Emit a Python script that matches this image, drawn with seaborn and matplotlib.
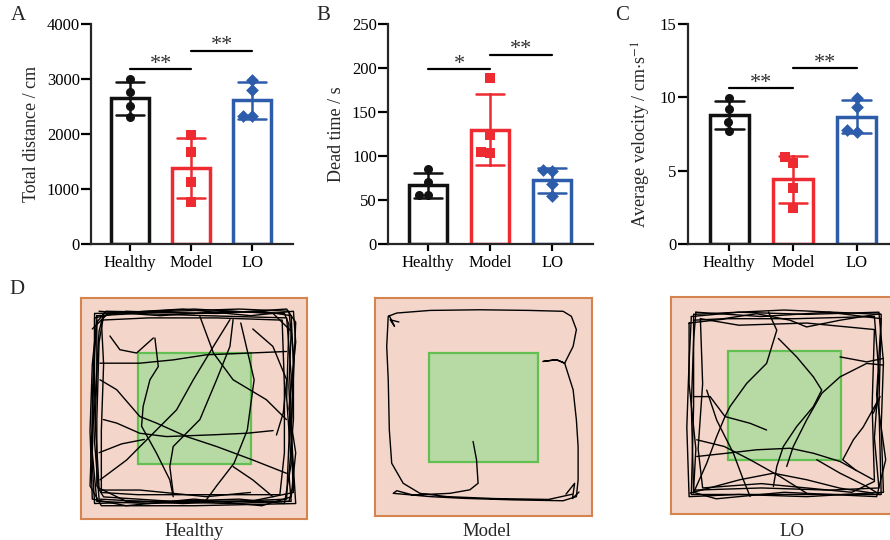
import numpy as np
import pandas as pd
import matplotlib
matplotlib.use('Agg')
import matplotlib.pyplot as plt
import seaborn as sns
from matplotlib.patches import Rectangle

# groups and styling
groups = ['Healthy', 'Model', 'LO']
colors = ['#111111', '#ee2b30', '#2d5cab']
markers = ['o', 's', 'D']

distance_healthy = [3003, 2771, 2510, 2315]
distance_model = [1988, 1666, 1131, 755]
distance_lo = [2985, 2803, 2329, 2329]

dead_healthy = [85, 70.6, 55.5, 55.5]
dead_model = [188.4, 124, 103, 104]
dead_lo = [84, 83, 68, 54]

velocity_healthy = [9.98, 9.18, 8.34, 7.73]
velocity_model = [5.9, 5.54, 3.79, 2.42]
velocity_lo = [9.94, 9.32, 7.66, 7.77]

# significance brackets: (group i, group j), height, label
sig_pairs = [(0, 1), (1, 2)]
sig_A = [3180, 3513]
sig_B = [198.7, 215]
sig_C = [10.62, 11.99]
stars_A = ['**', '**']
stars_B = ['*', '**']
stars_C = ['**', '**']

# open field tracks, arena coordinates 0-100 (y down), center zone 25-75
center_zone = [25, 25, 50, 50]

healthy_tracks = [
    [(6, 9), (20, 6), (50, 7), (80, 6), (93, 8), (94, 30), (93, 60), (94, 85), (92, 92), (60, 92), (30, 93), (7, 92), (5, 70), (6, 40), (6, 9)],
    [(8, 6), (35, 8), (65, 6), (90, 7), (92, 12), (91, 45), (93, 75), (90, 93), (70, 91), (40, 92), (10, 90), (7, 85), (7, 55), (8, 20), (10, 8)],
    [(5, 14), (12, 7), (45, 5), (75, 8), (94, 6), (95, 20), (92, 50), (95, 70), (93, 90), (80, 94), (50, 91), (20, 94), (5, 91), (4, 60), (5, 30), (7, 10)],
    [(9, 10), (30, 9), (60, 9), (89, 10), (90, 40), (90, 70), (88, 89), (55, 89), (25, 89), (9, 88), (9, 60), (10, 30), (9, 10)],
    [(7, 8), (25, 7), (55, 8), (91, 9), (93, 35), (92, 65), (91, 91), (45, 93), (8, 91), (6, 65), (7, 35), (7, 8)],
    [(6, 7), (40, 6), (70, 5), (92, 6), (94, 25), (94, 55), (92, 80), (93, 92), (65, 93), (35, 92), (6, 93), (5, 75), (5, 45), (6, 20), (6, 7)],
    [(10, 7), (50, 5), (85, 7), (93, 15), (92, 40), (94, 88), (75, 92), (20, 92), (8, 86), (6, 50), (8, 15), (10, 7)],
    [(7, 11), (11, 6), (60, 7), (91, 5), (95, 11), (93, 60), (95, 93), (50, 94), (9, 94), (4, 85), (6, 25), (7, 11)],
    [(8.4, 37), (15.8, 41.5), (26, 53.6), (33.4, 56.6), (46.7, 62.7), (60, 67.2), (76, 73.3), (90.9, 79.3)],
    [(8.4, 29.5), (26, 29.5), (40.8, 28), (55.5, 25.7), (74.7, 24.9), (90.9, 24.2)],
    [(32.7, 18.1), (34.2, 31), (30.5, 37), (27.5, 49), (26.8, 58), (33.4, 70.2), (39.3, 82.3), (40.8, 89.9)],
    [(8.4, 82.3), (20.2, 73.3), (30.5, 62.7), (42.3, 50.6), (49.7, 37), (58.6, 21.9), (65.9, 9.8)],
    [(67.3, 9.8), (65.9, 21.9), (60, 37), (52.6, 55), (40.8, 67.2), (39.3, 76.3), (40.8, 88.4)],
    [(70.7, 11.3), (76.6, 37), (73.6, 59.7), (67.7, 74.8), (60, 85), (55, 92)],
    [(52.6, 8.3), (58.6, 24.9), (67.3, 37), (82, 46), (90.9, 55)],
    [(9.9, 55), (15.8, 56.6), (26, 61.2), (37.8, 62.7), (58.6, 61.9), (73.3, 61.2), (85, 60)],
    [(8.4, 86.9), (26, 86.9), (40.8, 88.4), (55.5, 89.9), (75, 88)],
    [(67.3, 76.3), (76, 82.3), (84.9, 89.9)],
    [(12.8, 17.2), (17.2, 23.4), (24.6, 24.9), (32, 18.1)],
    [(76, 14), (84.9, 21.9), (91, 37), (89.5, 52), (86.5, 62)],
    [(8, 70), (18, 66), (28, 64)],
]

model_tracks = [
    [(45.2, 65.8), (46.8, 74.3), (47.5, 85), (43.7, 88), (34.5, 89.6), (17.6, 90.4), (10, 88.4), (8.4, 89.6),
     (25.3, 91.1), (40.6, 91.9), (63.7, 92.6), (86.7, 93), (92.8, 91.1), (93.6, 83.5), (93.6, 68.1),
     (92.8, 55.9), (91.3, 42.1), (87.4, 29.9), (83.6, 28.3), (77.5, 29.1), (83.6, 28.3), (87.4, 29.9),
     (91.3, 22.2), (92.8, 14.5), (90.5, 8.4), (86.7, 6.1), (71.3, 5.7), (48.3, 5.4), (25.3, 5.7),
     (10, 6.9), (6.1, 8.4), (5.4, 22.2), (6.1, 37.5), (6.6, 60.5), (7.7, 75.8), (13, 85), (20.7, 89.6),
     (33, 91.1), (55, 92), (80, 92.4), (91, 90)],
    [(6.5, 8), (9, 13), (7, 10), (11, 11)],
    [(88, 90), (92, 85), (91, 92), (94, 89)],
]

lo_tracks = [
    [(9, 9), (30, 7), (60, 8), (92, 7), (94, 30), (93, 60), (94, 90), (60, 92), (30, 91), (8, 92), (7, 60), (8, 30), (9, 9)],
    [(11, 7), (40, 9), (70, 7), (93, 10), (91, 45), (95, 75), (91, 92), (50, 90), (20, 93), (10, 90), (9, 50), (10, 20), (11, 7)],
    [(8, 12), (25, 10), (55, 10), (90, 9), (92, 35), (90, 65), (92, 88), (70, 89), (40, 88), (10, 89), (11, 70), (8, 40), (8, 12)],
    [(13, 10), (14, 40), (12, 70), (14, 88), (40, 86), (80, 90), (90, 85), (89, 50), (90, 15), (60, 12), (30, 13), (13, 10)],
    [(10, 8), (50, 6), (93, 8), (92, 50), (93, 91), (45, 91), (9, 91), (10, 50), (10, 8)],
    [(43.1, 6.9), (46.8, 15.3), (42.3, 30.6), (33.5, 39.8), (26.1, 50.5), (23.9, 55.1), (20.2, 64.3), (15.8, 76.6), (9.9, 90.4)],
    [(47.5, 19.1), (55.6, 27.6), (63, 36.8), (66.7, 42.9), (63, 50.5), (55.6, 59.7), (49.7, 68.9), (46.8, 78.1), (45.3, 87.3)],
    [(11.4, 73.5), (24.6, 72), (37.9, 70.4), (52.7, 69.7), (63, 72), (74.8, 75.8), (89.5, 84.2)],
    [(94, 31.4), (86.6, 30.6), (74.8, 36.8), (66.7, 44.4), (60, 56.7), (54.1, 68.9), (51.2, 78.1)],
    [(8.4, 90.4), (30.5, 84.2), (45.3, 81.2), (60, 84.2), (74.8, 88.1), (89.5, 90.4)],
    [(15.8, 42.9), (20.2, 56.7), (27.6, 72), (32, 84.2), (35, 91.9)],
    [(64.5, 75), (74.8, 81.2), (86.6, 87.3), (92.5, 91.1)],
    [(9.9, 10.7), (23.2, 10), (37.9, 7.7), (52.7, 10.7), (60, 13.8), (74.8, 10.7), (92.5, 7.7)],
    [(74.8, 27.6), (86.6, 29.9), (94, 28.3)],
    [(9.9, 45.9), (17.3, 45.9), (23.9, 55.1), (35, 58.2), (42.3, 61.3)],
    [(11.4, 65.8), (23.6, 68.9), (35, 75), (48.2, 82.7), (60, 90.4)],
    [(89.5, 53.6), (92.5, 45.9), (85, 60), (80.7, 65.8), (76, 75), (82, 80)],
]

sns.set_style('ticks')
plt.rcParams['font.family'] = ['Liberation Serif', 'DejaVu Serif']
plt.rcParams['mathtext.fontset'] = 'stix'

fig = plt.figure(figsize=(8.9, 5.4), dpi=100)

W, H = 890.0, 540.0


def px_axes(left, top, right, bottom):
    # place axes from pixel edges of the reference layout
    return fig.add_axes([left / W, 1 - bottom / H, (right - left) / W, (bottom - top) / H])


def bar_panel(ax, values, ylabel, ymax, step, xlim, sig_heights, sig_labels):
    df = pd.DataFrame({'group': np.repeat(groups, 4),
                       'value': np.concatenate(values)})
    for g, c in zip(groups, colors):
        sub = df[df.group == g]
        sns.barplot(data=sub, x='group', y='value', order=groups, color=c,
                    fill=False, errorbar='sd', capsize=0.45, width=0.62,
                    linewidth=2.5, err_kws={'linewidth': 1.8, 'color': c}, ax=ax)
    for g, c, m in zip(groups, colors, markers):
        sub = df[df.group == g]
        sns.swarmplot(data=sub, x='group', y='value', order=groups, color=c,
                      marker=m, size=6.5, ax=ax, zorder=5)
    for (i, j), h, lab in zip(sig_pairs, sig_heights, sig_labels):
        ax.plot([i, j], [h, h], color='black', lw=1.6)
        ax.annotate(lab, xy=((i + j) / 2, h), xytext=(0, 0.5), textcoords='offset points',
                    ha='center', va='baseline', fontsize=16, color='#333333')
    ax.set_xlim(*xlim)
    ax.set_ylim(0, ymax)
    ax.set_yticks(np.arange(0, ymax + step / 2, step))
    ax.set_xlabel('')
    ax.set_ylabel(ylabel, fontsize=13, labelpad=5)
    sns.despine(ax=ax)
    for s in ['left', 'bottom']:
        ax.spines[s].set_linewidth(1.6)
    ax.tick_params(width=1.6, colors='black')
    ax.tick_params(axis='x', labelsize=12, length=5, pad=3)
    ax.tick_params(axis='y', labelsize=12, length=7, pad=1)


axA = px_axes(91, 24.3, 293, 243.7)
bar_panel(axA, [distance_healthy, distance_model, distance_lo], 'Total distance / cm',
          4000, 1000, (-0.64, 2.67), sig_A, stars_A)

axB = px_axes(388, 24.3, 593, 243.7)
bar_panel(axB, [dead_healthy, dead_model, dead_lo], 'Dead time / s',
          250, 50, (-0.645, 2.66), sig_B, stars_B)

axC = px_axes(687.7, 24.3, 898, 243.7)
bar_panel(axC, [velocity_healthy, velocity_model, velocity_lo],
          r'Average velocity / cm$\cdot$s$^{-1}$',
          15, 5, (-0.653, 2.65), sig_C, stars_C)

# panel D: open field arenas
arena_boxes = [(81, 298, 307, 519), (375, 298, 592, 516), (671, 297, 897, 514)]
arena_tracks = [healthy_tracks, model_tracks, lo_tracks]
arena_labels = ['Healthy', 'Model', 'LO']
label_x = [194, 487, 792]

for box, tracks, lab, lx in zip(arena_boxes, arena_tracks, arena_labels, label_x):
    ax = px_axes(*box)
    ax.set_facecolor('#f3d6c9')
    ax.add_patch(Rectangle((center_zone[0], center_zone[1]), center_zone[2], center_zone[3],
                           facecolor='#b7d9a4', edgecolor='#62c052', lw=1.6, zorder=1))
    for tr in tracks:
        arr = np.array(tr)
        ax.plot(arr[:, 0], arr[:, 1], color='black', lw=1.0, zorder=2)
    ax.set_xlim(0, 100)
    ax.set_ylim(100, 0)
    ax.set_xticks([])
    ax.set_yticks([])
    for s in ax.spines.values():
        s.set_color('#d5844f')
        s.set_linewidth(1.5)
        s.set_visible(True)
    fig.text(lx / W, 1 - 531 / H, lab, ha='center', va='center', fontsize=13.5)

# panel letters
for letter, x, y in [('A', 18, 16), ('B', 323, 16), ('C', 622, 16), ('D', 17, 290)]:
    fig.text(x / W, 1 - y / H, letter, ha='center', va='center', fontsize=15)

fig.savefig('out.png', dpi=100)
